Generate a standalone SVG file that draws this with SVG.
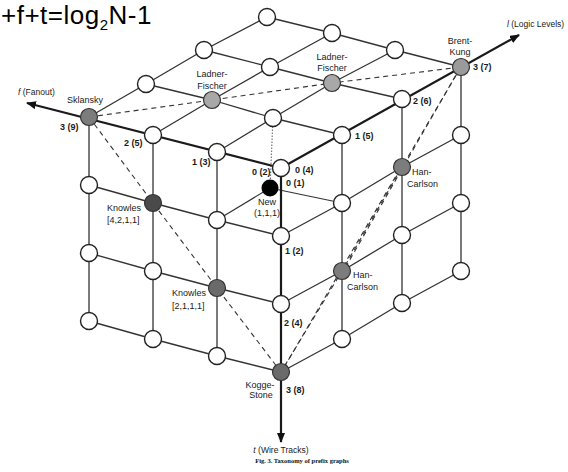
<svg xmlns="http://www.w3.org/2000/svg" width="568" height="472" viewBox="0 0 568 472">
  <style>
    .grid { fill: none; stroke: #333; stroke-width: 1.3; stroke-linejoin: round; }
    .axis { fill: none; stroke: #1a1a1a; stroke-width: 2.2; }
    .dash { fill: none; stroke: #333; stroke-width: 1.1; stroke-dasharray: 5 4; }
    .hidden { fill: none; stroke: #777; stroke-width: 1.2; stroke-dasharray: 1.5 1.5; }
    .inner { fill: none; stroke: #333; stroke-width: 1.2; }
    .node { fill: #fff; stroke: #222; stroke-width: 1.4; }
    .alg { stroke: #333; stroke-width: 1.2; }
    .lbl { font-family: "Liberation Sans", Arial, sans-serif; font-size: 9px; fill: #1a1a1a; }
    .num { font-family: "Liberation Sans", Arial, sans-serif; font-size: 9px; font-weight: bold; fill: #1a1a1a; }
    .axlbl { font-family: "Liberation Sans", Arial, sans-serif; font-size: 8.5px; fill: #1a1a1a; }
    .mid { text-anchor: middle; }
  </style>
  <defs>
    <marker id="arrow" viewBox="0 0 10 8" refX="9" refY="4" markerWidth="10" markerHeight="8" markerUnits="userSpaceOnUse" orient="auto">
      <path d="M0,0 L10,4 L0,8 Z" fill="#111"/>
    </marker>
  </defs>

  <!-- equation -->
  <text x="1" y="23.5" font-family="Liberation Sans, Arial, sans-serif" font-size="26" letter-spacing="0.5" fill="#000">+f+t=log<tspan font-size="15" dy="6.5">2</tspan><tspan dy="-6.5">N-1</tspan></text>

  <g id="connectors">
    <!-- lines to the interior point (1,1,1) -->
    <line class="hidden" x1="270" y1="188" x2="273" y2="118"/>
    <line class="inner" x1="270" y1="188" x2="217" y2="220"/>
    <line class="inner" x1="270" y1="188" x2="342" y2="203"/>

    <!-- top face (t = 0) -->
    <polyline class="grid" points="217,152 273,118 332,83 395,50"/>
    <polyline class="grid" points="153,135 212,100 270,67 332,33"/>
    <polyline class="grid" points="89,117 146,84 204,50 267,17"/>
    <polyline class="grid" points="342,135 273,118 212,100 146,84"/>
    <polyline class="grid" points="402,99 332,83 270,67 204,50"/>
    <polyline class="grid" points="461,67 395,50 332,33 267,17"/>

    <!-- left face (l = 0) -->
    <polyline class="grid" points="281,236 217,220 153,203 89,185"/>
    <polyline class="grid" points="281,304 217,288 153,271 89,253"/>
    <polyline class="grid" points="281,372 217,356 153,339 89,321"/>
    <line class="grid" x1="217" y1="152" x2="217" y2="356"/>
    <line class="grid" x1="153" y1="135" x2="153" y2="339"/>
    <line class="grid" x1="89" y1="117" x2="89" y2="321"/>

    <!-- right face (f = 0) -->
    <polyline class="grid" points="281,236 342,203 402,167 461,135"/>
    <polyline class="grid" points="281,304 342,271 402,235 461,203"/>
    <polyline class="grid" points="281,372 342,339 402,303 461,271"/>
    <line class="grid" x1="342" y1="135" x2="342" y2="339"/>
    <line class="grid" x1="402" y1="99" x2="402" y2="303"/>
    <line class="grid" x1="461" y1="67" x2="461" y2="271"/>

    <!-- axes -->
    <line class="axis" x1="281" y1="168" x2="27" y2="103" marker-end="url(#arrow)"/>
    <line class="axis" x1="281" y1="168" x2="519" y2="35" marker-end="url(#arrow)"/>
    <line class="axis" x1="281" y1="168" x2="281" y2="442" marker-end="url(#arrow)"/>

    <!-- dashed trade-off lines -->
    <polyline class="dash" points="89,117 212,100 332,83 461,67"/>
    <polyline class="dash" points="89,117 153,203 217,288 281,372"/>
    <polyline class="dash" points="461,67 402,167 342,271 281,372"/>
    <line class="dash" x1="460" y1="68" x2="344" y2="270"/>
    <line class="dash" x1="400" y1="169" x2="282" y2="371"/>
  </g>

  <!-- top face nodes -->
  <g id="n000"><circle class="node" cx="281" cy="168" r="8.5"/>
    <text class="num" x="252" y="175">0 (2)</text>
    <text class="num" x="295" y="173">0 (4)</text>
    <text class="num" x="286" y="186">0 (1)</text></g>
  <g id="n100"><circle class="node" cx="342" cy="135" r="8.5"/><text class="num" x="355" y="139">1 (5)</text></g>
  <g id="n200"><circle class="node" cx="402" cy="99" r="8.5"/><text class="num" x="413" y="104">2 (6)</text></g>
  <g id="brent-kung"><circle class="alg" cx="461" cy="67" r="8.5" fill="#9a9a9a"/>
    <text class="lbl mid" x="460" y="44">Brent-</text><text class="lbl mid" x="460" y="55">Kung</text>
    <text class="num" x="473" y="70">3 (7)</text></g>
  <g id="n010"><circle class="node" cx="217" cy="152" r="8.5"/><text class="num" x="192" y="165">1 (3)</text></g>
  <g id="n110"><circle class="node" cx="273" cy="118" r="8.5"/></g>
  <g id="ladner-fischer-a"><circle class="alg" cx="332" cy="83" r="8.5" fill="#a8a8a8"/>
    <text class="lbl mid" x="332" y="60">Ladner-</text><text class="lbl mid" x="332" y="71">Fischer</text></g>
  <g id="n310"><circle class="node" cx="395" cy="50" r="8.5"/></g>
  <g id="n020"><circle class="node" cx="153" cy="135" r="8.5"/><text class="num" x="124" y="146">2 (5)</text></g>
  <g id="ladner-fischer-b"><circle class="alg" cx="212" cy="100" r="8.5" fill="#a8a8a8"/>
    <text class="lbl mid" x="212" y="77">Ladner-</text><text class="lbl mid" x="212" y="89">Fischer</text></g>
  <g id="n220"><circle class="node" cx="270" cy="67" r="8.5"/></g>
  <g id="n320"><circle class="node" cx="332" cy="33" r="8.5"/></g>
  <g id="sklansky"><circle class="alg" cx="89" cy="117" r="8.5" fill="#7c7c7c"/>
    <text class="lbl mid" x="85" y="103">Sklansky</text>
    <text class="num" x="60" y="130">3 (9)</text>
    <text class="axlbl" x="18" y="95"><tspan font-style="italic">f</tspan> (Fanout)</text></g>
  <g id="n130"><circle class="node" cx="146" cy="84" r="8.5"/></g>
  <g id="n230"><circle class="node" cx="204" cy="50" r="8.5"/></g>
  <g id="n330"><circle class="node" cx="267" cy="17" r="8.5"/></g>

  <!-- left face nodes -->
  <g id="n001"><circle class="node" cx="281" cy="236" r="8.5"/><text class="num" x="285" y="254">1 (2)</text></g>
  <g id="n011"><circle class="node" cx="217" cy="220" r="8.5"/></g>
  <g id="knowles-4211"><circle class="alg" cx="153" cy="203" r="8.5" fill="#4a4a4a"/>
    <text class="lbl" x="107" y="211">Knowles</text><text class="lbl" x="107" y="223">[4,2,1,1]</text></g>
  <g id="n031"><circle class="node" cx="89" cy="185" r="8.5"/></g>
  <g id="n002"><circle class="node" cx="281" cy="304" r="8.5"/><text class="num" x="284" y="326">2 (4)</text></g>
  <g id="knowles-2111"><circle class="alg" cx="217" cy="288" r="8.5" fill="#6a6a6a"/>
    <text class="lbl" x="172" y="296">Knowles</text><text class="lbl" x="172" y="309">[2,1,1,1]</text></g>
  <g id="n022"><circle class="node" cx="153" cy="271" r="8.5"/></g>
  <g id="n032"><circle class="node" cx="89" cy="253" r="8.5"/></g>
  <g id="kogge-stone"><circle class="alg" cx="281" cy="372" r="8.5" fill="#6a6a6a"/>
    <text class="lbl mid" x="260" y="388">Kogge-</text><text class="lbl mid" x="261" y="398">Stone</text>
    <text class="num" x="286" y="393">3 (8)</text>
    <text class="axlbl mid" x="281" y="453"><tspan font-style="italic">t</tspan> (Wire Tracks)</text></g>
  <g id="n013"><circle class="node" cx="217" cy="356" r="8.5"/></g>
  <g id="n023"><circle class="node" cx="153" cy="339" r="8.5"/></g>
  <g id="n033"><circle class="node" cx="89" cy="321" r="8.5"/></g>

  <!-- right face nodes -->
  <g id="n101"><circle class="node" cx="342" cy="203" r="8.5"/></g>
  <g id="han-carlson-a"><circle class="alg" cx="402" cy="167" r="8.5" fill="#7c7c7c"/>
    <text class="lbl" x="412" y="175">Han-</text><text class="lbl" x="407" y="187">Carlson</text></g>
  <g id="n301"><circle class="node" cx="461" cy="135" r="8.5"/></g>
  <g id="han-carlson-b"><circle class="alg" cx="342" cy="271" r="8.5" fill="#7c7c7c"/>
    <text class="lbl" x="353" y="278">Han-</text><text class="lbl" x="347" y="290">Carlson</text></g>
  <g id="n202"><circle class="node" cx="402" cy="235" r="8.5"/></g>
  <g id="n302"><circle class="node" cx="461" cy="203" r="8.5"/></g>
  <g id="n103"><circle class="node" cx="342" cy="339" r="8.5"/></g>
  <g id="n203"><circle class="node" cx="402" cy="303" r="8.5"/></g>
  <g id="n303"><circle class="node" cx="461" cy="271" r="8.5"/></g>

  <!-- interior point -->
  <g id="new"><circle cx="270" cy="188" r="8.5" fill="#000"/>
    <text class="lbl mid" x="267" y="205">New</text><text class="lbl mid" x="267" y="216">(1,1,1)</text></g>

  <!-- axis label for logic levels -->
  <g id="logic-axis-label"><text class="axlbl" x="507" y="27"><tspan font-style="italic">l</tspan> (Logic Levels)</text></g>

  <text x="302" y="463" font-family="Liberation Serif, Times New Roman, serif" font-size="6.5" font-weight="bold" fill="#111" text-anchor="middle">Fig. 3.  Taxonomy of prefix graphs</text>
</svg>
